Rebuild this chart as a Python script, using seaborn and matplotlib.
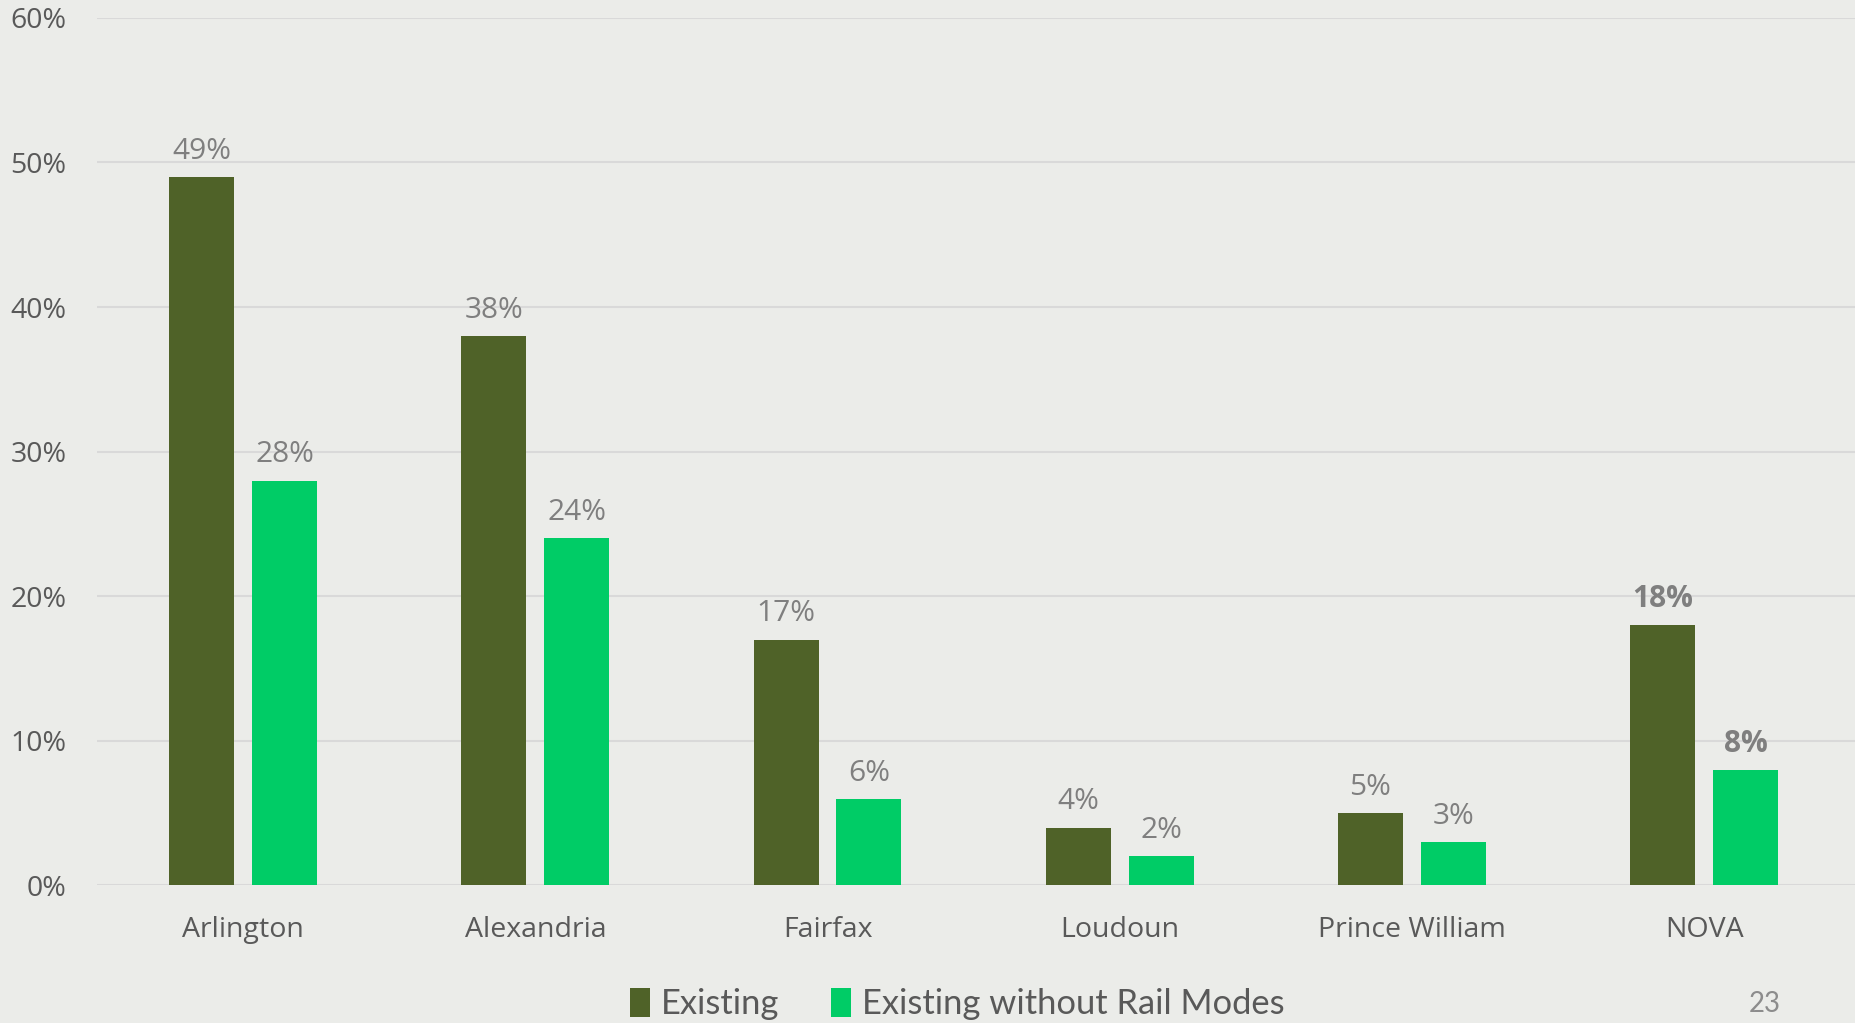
import matplotlib
matplotlib.use("Agg")
import matplotlib.pyplot as plt
from matplotlib.ticker import PercentFormatter
import seaborn as sns
import pandas as pd

# values (percent)
counties = ['Arlington', 'Alexandria', 'Fairfax', 'Loudoun', 'Prince William', 'NOVA']
existing = [49, 38, 17, 4, 5, 18]
without_rail = [28, 24, 6, 2, 3, 8]
series_names = ['Existing', 'Existing without Rail Modes']
y_ticks = [0, 10, 20, 30, 40, 50, 60]

df = pd.DataFrame({
    'county': counties * 2,
    'share': existing + without_rail,
    'series': [series_names[0]] * len(counties) + [series_names[1]] * len(counties),
})

bg = '#EBECE9'
colors = {'Existing': '#4F6228', 'Existing without Rail Modes': '#00CC66'}

sns.set_style('white')
plt.rcParams['font.family'] = ['Open Sans', 'DejaVu Sans']

fig = plt.figure(figsize=(18.56, 10.23), dpi=100, facecolor=bg)
ax = fig.add_axes([0.0523, 0.1345, 0.9477, 0.8481])
ax.set_facecolor(bg)

sns.barplot(data=df, x='county', y='share', hue='series', palette=colors,
            width=0.567, gap=0.214, ax=ax, saturation=1, legend=True,
            linewidth=0)

# value labels above bars, NOVA in bold
for cont in ax.containers:
    texts = ax.bar_label(cont, fmt='%d%%', padding=8, fontsize=21.5, color='#7F7F7F')
    texts[-1].set_fontweight('bold')

ax.set_ylim(0, 60)
ax.set_xlim(-0.5, 5.52)
ax.set_yticks(y_ticks)
ax.yaxis.set_major_formatter(PercentFormatter(decimals=0))
ax.grid(axis='y', color='#D9D9D9', linewidth=1.5)
ax.set_axisbelow(True)
for s in ax.spines.values():
    s.set_visible(False)
ax.tick_params(axis='y', length=0, pad=22, labelsize=20.5, labelcolor='#595959')
ax.tick_params(axis='x', length=0, pad=22, labelsize=20.5, labelcolor='#595959')
ax.set_xlabel('')
ax.set_ylabel('')

handles, labels = ax.get_legend_handles_labels()
ax.get_legend().remove()
fig.legend(handles, labels, loc='center', bbox_to_anchor=(957 / 1856, 1 - 1004 / 1023),
           ncol=2, frameon=False, prop={'family': 'Lato', 'size': 24.8},
           labelcolor='#595959', handlelength=0.6, handleheight=0.9,
           handletextpad=0.3, columnspacing=1.5)

fig.text(1765 / 1856, 1 - 1004 / 1023, '23', ha='center', va='center',
         fontsize=20, color='#8C8C8C', family='Lato')

fig.savefig('out.png', dpi=100, facecolor=bg)
